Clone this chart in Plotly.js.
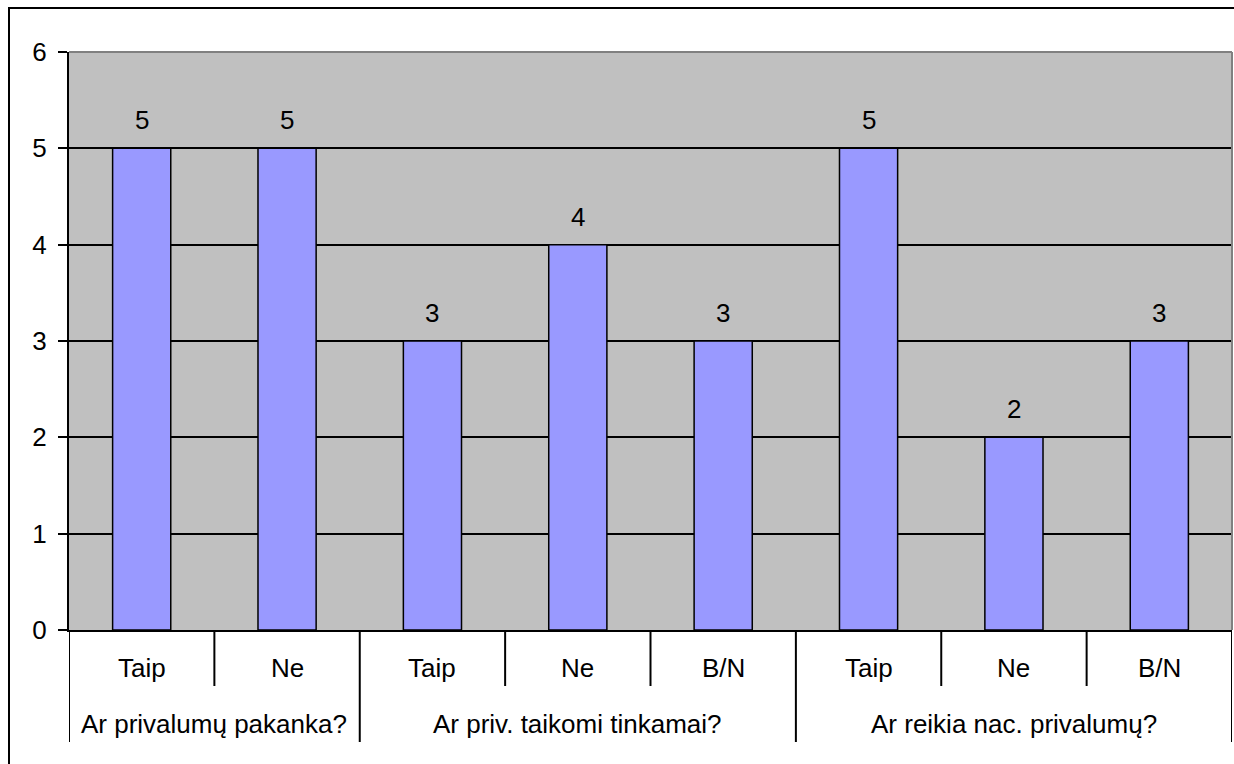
<!DOCTYPE html>
<html>
<head>
<meta charset="utf-8">
<script src="https://cdn.plot.ly/plotly-3.0.1.min.js"></script>
<style>
  html, body { margin: 0; padding: 0; background: #ffffff; }
  #chart { width: 1234px; height: 764px; }
</style>
</head>
<body>
<div id="chart"></div>
<script>
// ---- data ----
const groups = [
  "Ar privalumų pakanka?", "Ar privalumų pakanka?",
  "Ar priv. taikomi tinkamai?", "Ar priv. taikomi tinkamai?", "Ar priv. taikomi tinkamai?",
  "Ar reikia nac. privalumų?", "Ar reikia nac. privalumų?", "Ar reikia nac. privalumų?"
];
const categories = ["Taip", "Ne", "Taip", "Ne", "B/N", "Taip", "Ne", "B/N"];
const values = [5, 5, 3, 4, 3, 5, 2, 3];
const yTicks = [0, 1, 2, 3, 4, 5, 6];

// ---- derived positions (category index along a linear axis) ----
const idx = categories.map((_, i) => i);
const FONT = "Liberation Sans, Arial, sans-serif";
const FS = 26;

// plot geometry (px) used to convert pixel offsets into paper units
const plotH = 764 - 52 - 134;
const row1 = -38 / plotH;
const row2 = -94 / plotH;
const shortSep = -56 / plotH;
const longSep = -112 / plotH;

const annotations = [];
const shapes = [];

// value labels above bars
idx.forEach(i => {
  annotations.push({
    x: i, y: values[i], xref: "x", yref: "y",
    text: String(values[i]), showarrow: false,
    yanchor: "middle", yshift: 28,
    font: {family: FONT, size: FS, color: "#000"}
  });
});

// category labels (first row)
idx.forEach(i => {
  annotations.push({
    x: i, y: row1, xref: "x", yref: "paper",
    text: categories[i], showarrow: false,
    yanchor: "middle",
    font: {family: FONT, size: FS, color: "#000"}
  });
});

// group labels (second row) and separators
let start = 0;
for (let i = 1; i <= groups.length; i++) {
  if (i === groups.length || groups[i] !== groups[start]) {
    annotations.push({
      x: (start + i - 1) / 2, y: row2, xref: "x", yref: "paper",
      text: groups[start], showarrow: false, yanchor: "middle",
      font: {family: FONT, size: FS, color: "#000"}
    });
    start = i;
  }
}
for (let i = 0; i <= groups.length; i++) {
  const isGroupEdge = (i === 0 || i === groups.length || groups[i] !== groups[i - 1]);
  shapes.push({
    type: "line", xref: "x", yref: "paper",
    x0: i - 0.5, x1: i - 0.5, y0: 0, y1: isGroupEdge ? longSep : shortSep,
    line: {color: "#000", width: 2}
  });
}

// plot frame (top/right gray) and outer chart border
shapes.push({type: "line", xref: "paper", yref: "paper", x0: 0, x1: 1, y0: 1, y1: 1,
  line: {color: "#808080", width: 2}, layer: "above"});
shapes.push({type: "line", xref: "paper", yref: "paper", x0: 1, x1: 1, y0: 0, y1: 1,
  line: {color: "#808080", width: 2}, layer: "above"});
shapes.push({type: "rect", xref: "paper", yref: "paper",
  x0: (9 - 69) / 1163, x1: 1.2, y0: -0.6, y1: (630 - 8) / plotH,
  line: {color: "#000", width: 2}, fillcolor: "rgba(0,0,0,0)"});

const trace = {
  type: "bar",
  x: idx,
  y: values,
  width: 0.4,
  marker: {color: "#9999FF", line: {color: "#000", width: 1.5}},
  hoverinfo: "skip"
};

const layout = {
  width: 1234, height: 764,
  margin: {l: 69, r: 2, t: 52, b: 134, pad: 0},
  paper_bgcolor: "#ffffff",
  plot_bgcolor: "#C0C0C0",
  showlegend: false,
  font: {family: FONT, size: FS, color: "#000"},
  xaxis: {
    type: "linear", range: [-0.5, categories.length - 0.5],
    showticklabels: false, ticks: "", showgrid: false, zeroline: false,
    showline: true, linecolor: "#000", linewidth: 2, fixedrange: true
  },
  yaxis: {
    range: [0, 6], tickvals: yTicks, ticktext: yTicks.map(String),
    ticks: "outside", ticklen: 9, tickwidth: 2, tickcolor: "#000",
    ticklabelstandoff: 6,
    showgrid: true, gridcolor: "#000", gridwidth: 2,
    zeroline: false, showline: true, linecolor: "#000", linewidth: 2,
    tickfont: {family: FONT, size: FS, color: "#000"}, fixedrange: true
  },
  annotations: annotations,
  shapes: shapes
};

Plotly.newPlot("chart", [trace], layout, {displayModeBar: false, staticPlot: true});
</script>
</body>
</html>
